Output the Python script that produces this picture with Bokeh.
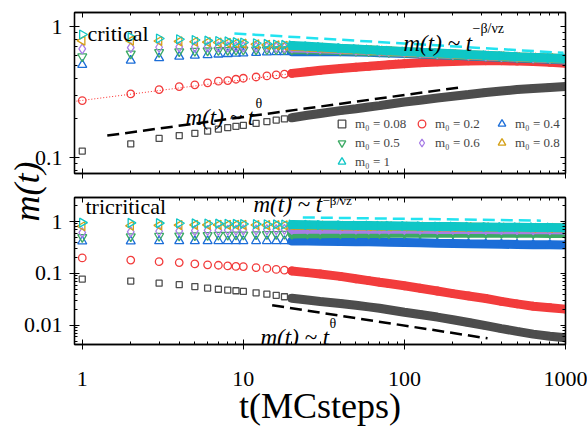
import math
from bokeh.plotting import figure
from bokeh.models import (LogAxis, FixedTicker, CustomJSTickFormatter, Label,
                          Legend, LegendItem, Range1d)
from bokeh.layouts import column
from bokeh.embed import file_html
from bokeh.resources import INLINE

# ---------------- data ----------------
t = [1, 2, 3, 4, 5, 6, 7, 8, 9, 10, 12, 14, 16, 18, 20, 25, 30, 40, 50, 60, 70, 80,
     100, 125, 160, 200, 250, 320, 400, 500, 630, 800, 1000]

labels = ["m₀ = 0.08", "m₀ = 0.2", "m₀ = 0.4", "m₀ = 0.5", "m₀ = 0.6", "m₀ = 0.8", "m₀ = 1"]

# critical point (top panel)
crit_008 = [0.112, 0.127, 0.14, 0.147, 0.153, 0.159, 0.165, 0.169, 0.173, 0.176, 0.182, 0.188,
            0.193, 0.197, 0.201, 0.21, 0.217, 0.228, 0.236, 0.243, 0.249, 0.255, 0.265, 0.274,
            0.285, 0.294, 0.303, 0.314, 0.322, 0.33, 0.337, 0.343, 0.348]
crit_02 = [0.272, 0.306, 0.33, 0.348, 0.359, 0.372, 0.383, 0.387, 0.396, 0.403, 0.412, 0.42,
           0.427, 0.433, 0.439, 0.452, 0.463, 0.478, 0.489, 0.497, 0.504, 0.51, 0.52, 0.529,
           0.537, 0.542, 0.546, 0.548, 0.548, 0.545, 0.54, 0.533, 0.525]
crit_04 = [0.51, 0.55, 0.575, 0.59, 0.6, 0.607, 0.613, 0.618, 0.622, 0.625, 0.631, 0.635,
           0.638, 0.64, 0.641, 0.643, 0.643, 0.641, 0.638, 0.635, 0.632, 0.629, 0.623, 0.617,
           0.61, 0.603, 0.596, 0.589, 0.582, 0.575, 0.569, 0.562, 0.555]
crit_05 = [0.59, 0.62, 0.636, 0.645, 0.65, 0.655, 0.658, 0.66, 0.662, 0.664, 0.666, 0.667,
           0.667, 0.667, 0.666, 0.664, 0.661, 0.655, 0.65, 0.645, 0.641, 0.637, 0.63, 0.623,
           0.615, 0.607, 0.6, 0.593, 0.586, 0.579, 0.573, 0.567, 0.56]
crit_06 = [0.675, 0.69, 0.695, 0.7, 0.7, 0.7, 0.7, 0.7, 0.7, 0.7, 0.697, 0.695,
           0.692, 0.69, 0.687, 0.682, 0.677, 0.668, 0.661, 0.655, 0.65, 0.645, 0.637, 0.629,
           0.621, 0.613, 0.605, 0.597, 0.59, 0.583, 0.577, 0.571, 0.564]
crit_08 = [0.78, 0.78, 0.775, 0.77, 0.765, 0.76, 0.755, 0.75, 0.745, 0.74, 0.732, 0.725,
           0.719, 0.713, 0.708, 0.698, 0.69, 0.677, 0.668, 0.661, 0.655, 0.65, 0.641, 0.633,
           0.624, 0.616, 0.608, 0.6, 0.593, 0.586, 0.58, 0.574, 0.567]
crit_1 = [0.87, 0.83, 0.81, 0.8, 0.79, 0.78, 0.775, 0.77, 0.76, 0.755, 0.745, 0.737,
          0.73, 0.724, 0.718, 0.707, 0.698, 0.684, 0.674, 0.666, 0.659, 0.654, 0.645, 0.636,
          0.627, 0.619, 0.611, 0.603, 0.596, 0.589, 0.582, 0.576, 0.57]

# tricritical point (bottom panel)
tri_008 = [0.078, 0.0716, 0.065, 0.061, 0.056, 0.0525, 0.0497, 0.048, 0.0465, 0.0452, 0.0425, 0.04,
           0.038, 0.0357, 0.0335, 0.031, 0.029, 0.0265, 0.0245, 0.0228, 0.0214, 0.0201, 0.018,
           0.0163, 0.0145, 0.0129, 0.0114, 0.0099, 0.0087, 0.0077, 0.0068, 0.0062, 0.0058]
tri_02 = [0.199, 0.181, 0.169, 0.162, 0.153, 0.147, 0.144, 0.14, 0.137, 0.136, 0.13, 0.125,
          0.12, 0.116, 0.112, 0.104, 0.098, 0.088, 0.079, 0.073, 0.068, 0.064, 0.058, 0.052,
          0.046, 0.041, 0.037, 0.033, 0.029, 0.026, 0.0235, 0.022, 0.0206]
tri_04 = [0.415, 0.418, 0.42, 0.421, 0.422, 0.422, 0.423, 0.423, 0.423, 0.423, 0.423, 0.423,
          0.422, 0.422, 0.421, 0.42, 0.418, 0.414, 0.41, 0.406, 0.403, 0.4, 0.395, 0.39,
          0.384, 0.379, 0.374, 0.369, 0.365, 0.362, 0.359, 0.357, 0.355]
tri_05 = [0.5, 0.515, 0.525, 0.533, 0.54, 0.545, 0.55, 0.553, 0.556, 0.559, 0.564, 0.568,
          0.571, 0.574, 0.576, 0.58, 0.583, 0.587, 0.589, 0.59, 0.591, 0.592, 0.593, 0.594,
          0.594, 0.594, 0.594, 0.594, 0.593, 0.593, 0.592, 0.591, 0.59]
tri_06 = [0.61, 0.635, 0.65, 0.66, 0.667, 0.673, 0.678, 0.682, 0.686, 0.689, 0.694, 0.698,
          0.701, 0.704, 0.706, 0.71, 0.712, 0.714, 0.714, 0.713, 0.712, 0.711, 0.709, 0.707,
          0.705, 0.703, 0.701, 0.699, 0.697, 0.695, 0.693, 0.691, 0.689]
tri_08 = [0.81, 0.83, 0.845, 0.855, 0.86, 0.862, 0.863, 0.863, 0.862, 0.86, 0.857, 0.854,
          0.851, 0.848, 0.846, 0.84, 0.835, 0.827, 0.821, 0.816, 0.812, 0.808, 0.802, 0.796,
          0.79, 0.785, 0.78, 0.774, 0.769, 0.765, 0.76, 0.756, 0.752]
tri_1 = [0.95, 0.94, 0.93, 0.925, 0.92, 0.915, 0.91, 0.905, 0.9, 0.897, 0.89, 0.885,
         0.88, 0.876, 0.872, 0.864, 0.857, 0.847, 0.84, 0.834, 0.829, 0.825, 0.818, 0.811,
         0.804, 0.798, 0.792, 0.786, 0.78, 0.775, 0.77, 0.766, 0.762]

# guide lines
crit_fit_t = [0.81, 92]
crit_fit_m = [0.264, 0.557]
crit_theta_t = [1.43, 218]
crit_theta_m = [0.147, 0.342]
crit_beta_t = [8.8, 972]
crit_beta_m = [0.885, 0.63]
tri_beta_t = [23.4, 703]
tri_beta_m = [1.2, 1.04]
tri_theta_t = [15.1, 328]
tri_theta_m = [0.0245, 0.00565]

x_major = [1, 10, 100, 1000]
x_minor = [2, 3, 4, 5, 6, 7, 8, 9, 20, 30, 40, 50, 60, 70, 80, 90,
           200, 300, 400, 500, 600, 700, 800, 900]
top_y_major = [0.1, 1]
top_y_minor = [0.08, 0.09, 0.2, 0.3, 0.4, 0.5, 0.6, 0.7, 0.8, 0.9]
bot_y_major = [0.01, 0.1, 1]
bot_y_minor = [0.005, 0.006, 0.007, 0.008, 0.009, 0.02, 0.03, 0.04, 0.05, 0.06, 0.07,
               0.08, 0.09, 0.2, 0.3, 0.4, 0.5, 0.6, 0.7, 0.8, 0.9, 2]

# ---------------- style ----------------
FONT = "Liberation Serif"
colors = ["#4d4d4d", "#f23c3c", "#1c6ed8", "#3caa64", "#a87ee6", "#d4a017", "#0fc6c6"]
markers = ["square", "circle", "triangle", "inverted_triangle", "diamond", "triangle", "triangle"]
sizes = [6, 7.5, 9, 9, 10, 9, 9]
angles = [0, 0, 0, 0, 0, math.pi / 2, -math.pi / 2]
BAND_FROM = 14

shown = CustomJSTickFormatter(code="return String(parseFloat(tick.toPrecision(3)));")
hidden = CustomJSTickFormatter(code="return '';")

x_range = Range1d(0.895, 1000)


def style_axes(p, ymaj, ymin, show_x):
    xt = FixedTicker(ticks=x_major, minor_ticks=x_minor)
    yt = FixedTicker(ticks=ymaj, minor_ticks=ymin)
    xa = p.below[0]
    ya = p.left[0]
    xa.ticker = xt
    ya.ticker = yt
    ya.formatter = shown
    xa.formatter = shown if show_x else hidden
    for ax in (xa, ya):
        ax.axis_line_width = 1.3
        ax.major_tick_in = 5
        ax.major_tick_out = 5
        ax.minor_tick_in = 3
        ax.minor_tick_out = 0
        ax.major_label_text_font = FONT
        ax.major_label_text_font_size = "22px"
        ax.major_label_text_color = "black"
        ax.major_label_standoff = 7
    if not show_x:
        xa.major_label_text_font_size = "0px"
        xa.major_label_standoff = 0
    for loc, tk in (("above", xt), ("right", yt)):
        ax = LogAxis(ticker=tk, formatter=hidden, major_label_text_font_size="0px",
                     major_label_standoff=0, major_tick_in=5, major_tick_out=0,
                     minor_tick_in=3, minor_tick_out=0, axis_line_width=1.3)
        p.add_layout(ax, loc)
    p.xgrid.visible = False
    p.ygrid.visible = False
    p.outline_line_color = "black"
    p.outline_line_width = 1.3


def draw_series(p, series):
    rends = []
    for vals, c, mk, sz, an in zip(series, colors, markers, sizes, angles):
        p.line(t[BAND_FROM:], vals[BAND_FROM:], line_color=c, line_width=9, line_cap="round")
        r = p.scatter(t, vals, marker=mk, size=sz, angle=an, line_color=c, fill_color=None,
                      line_width=1.3)
        rends.append(r)
    return rends


def add_text(p, x, y, text, size, style="normal"):
    p.add_layout(Label(x=x, y=y, x_units="screen", y_units="screen", text=text,
                       text_font=FONT, text_font_size=size, text_font_style=style,
                       text_color="black", text_align="left", text_baseline="alphabetic"))


# ---------------- top panel ----------------
p1 = figure(width=587, height=185, x_axis_type="log", y_axis_type="log",
            x_range=x_range, y_range=Range1d(0.0755, 1.28),
            output_backend="svg", toolbar_location=None,
            min_border_left=74, min_border_right=22, min_border_top=12, min_border_bottom=12)
style_axes(p1, top_y_major, top_y_minor, False)
p1.line(crit_fit_t, crit_fit_m, line_color="#ff2a2a", line_width=1, line_dash="1 2")
r1 = draw_series(p1, [crit_008, crit_02, crit_04, crit_05, crit_06, crit_08, crit_1])
p1.line(crit_theta_t, crit_theta_m, line_color="black", line_width=2.5, line_dash="12 6")
p1.line(crit_beta_t, crit_beta_m, line_color="#22e3f0", line_width=2.5, line_dash="12 6")

add_text(p1, 13, 140, "critical", "22px")
add_text(p1, 111, 56, "m(t) ~ t", "23px", "italic")
add_text(p1, 181, 70, "θ", "14px")
add_text(p1, 329, 130, "m(t) ~ t", "23px", "italic")
add_text(p1, 398, 145, "−β/νz", "14px")

legend = Legend(items=[LegendItem(label=lb, renderers=[r]) for lb, r in zip(labels, r1)],
                location=(258, 2), ncols=3, orientation="horizontal",
                background_fill_alpha=0, border_line_color=None,
                padding=0, margin=0, spacing=0, glyph_width=19, glyph_height=19,
                label_height=19, label_width=57, label_standoff=4,
                label_text_font=FONT, label_text_font_size="13px")
p1.add_layout(legend)

# ---------------- bottom panel ----------------
p2 = figure(width=587, height=273, x_axis_type="log", y_axis_type="log",
            x_range=x_range, y_range=Range1d(0.0043, 2.9),
            output_backend="svg", toolbar_location=None,
            min_border_left=74, min_border_right=22, min_border_top=42, min_border_bottom=71,
            background_fill_color=None, border_fill_color=None)
p2.margin = (-30, 0, 0, 0)
style_axes(p2, bot_y_major, bot_y_minor, True)
r2 = draw_series(p2, [tri_008, tri_02, tri_04, tri_05, tri_06, tri_08, tri_1])
p2.line(tri_theta_t, tri_theta_m, line_color="black", line_width=2.5, line_dash="12 6")
p2.line(tri_beta_t, tri_beta_m, line_color="#22e3f0", line_width=2.5, line_dash="12 6")

xa2 = p2.below[0]
xa2.axis_label = "t(MCsteps)"
xa2.axis_label_text_font = FONT
xa2.axis_label_text_font_size = "36px"
xa2.axis_label_text_font_style = "normal"
xa2.axis_label_text_color = "black"
xa2.axis_label_standoff = -3
xa2.major_label_standoff = 22

add_text(p2, 11, 138, "tricritical", "22px")
add_text(p2, 179, 140, "m(t) ~ t", "23px", "italic")
add_text(p2, 248, 144, "−β/νz", "13px")
add_text(p2, 186, 7, "m(t) ~ t", "23px", "italic")
add_text(p2, 255, 21, "θ", "14px")

# ---------------- shared y-axis title: an axis label on a small transparent canvas ----------
p0 = figure(width=60, height=100, x_range=Range1d(0, 1), y_range=Range1d(0, 1),
            x_axis_location=None, output_backend="svg", toolbar_location=None,
            min_border=0, outline_line_color=None,
            background_fill_color=None, border_fill_color=None)
p0.grid.visible = False
ya0 = p0.left[0]
ya0.ticker = FixedTicker(ticks=[])
ya0.formatter = hidden
ya0.axis_line_color = None
ya0.major_tick_in = 0
ya0.major_tick_out = 0
ya0.minor_tick_in = 0
ya0.minor_tick_out = 0
ya0.major_label_text_font_size = "0px"
ya0.major_label_standoff = 0
ya0.axis_label = "m(t)"
ya0.axis_label_text_font = FONT
ya0.axis_label_text_font_size = "36px"
ya0.axis_label_text_font_style = "italic"
ya0.axis_label_text_color = "black"
ya0.axis_label_standoff = 0
p0.margin = (-287, 0, 0, 8)

layout = column(p1, p2, p0)
open("out.html", "w").write(file_html(layout, INLINE))
